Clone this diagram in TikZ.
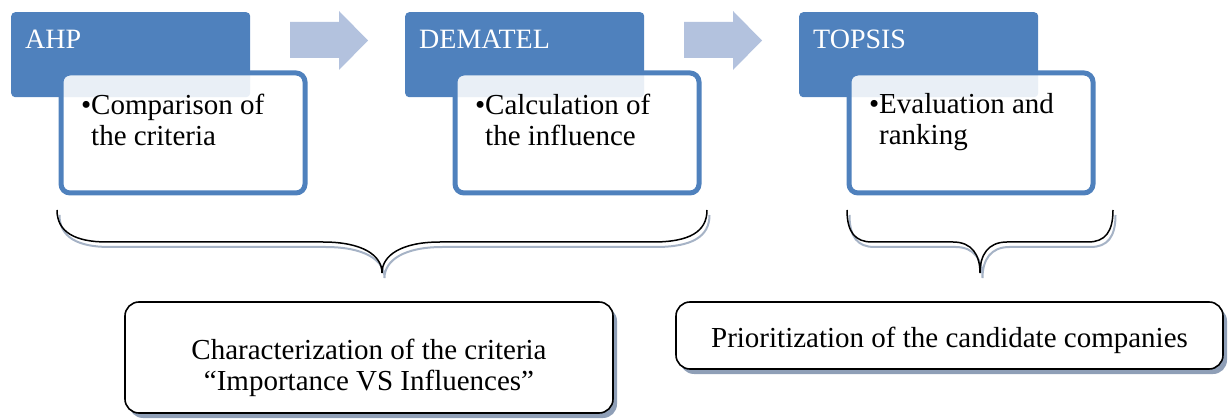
\documentclass[tikz,border=0pt]{standalone}
\usepackage{fontspec}
\setmainfont{Liberation Serif}
\usetikzlibrary{shadows}
\definecolor{accent}{HTML}{4F81BD}
\definecolor{arrowfill}{HTML}{B3C2DE}
\definecolor{shadowc}{HTML}{8F9FB7}
\definecolor{braceshadow}{HTML}{A6B3C6}
\begin{document}
\begin{tikzpicture}[x=1pt,y=-1pt,
  headbox/.style={fill=accent, rounded corners=4pt, minimum width=239pt, minimum height=85pt, inner sep=0pt, anchor=north west},
  itembox/.style={draw=accent, line width=5pt, fill=white, fill opacity=0.88, rounded corners=9pt, minimum width=244pt, minimum height=120pt, inner sep=0pt, anchor=north west},
  headtext/.style={text=white, font=\fontsize{28}{32}\selectfont, anchor=base west, inner sep=0pt},
  itemtext/.style={text=black, font=\fontsize{29}{31}\selectfont, align=left, anchor=north west, inner sep=0pt},
  resultbox/.style={draw=black, line width=1.6pt, fill=white, rounded corners=14pt, inner sep=0pt,
    drop shadow={shadow xshift=4pt, shadow yshift=-5pt, fill=shadowc, opacity=1}},
  resulttext/.style={text=black, font=\fontsize{29}{31}\selectfont, align=center, inner sep=0pt},
  blockarrow/.style={fill=arrowfill},
  bracepath/.style={draw=black, line width=1.5pt},
  braceshade/.style={draw=braceshadow, line width=2pt}
]
\useasboundingbox (0,0) rectangle (1228,419);

% ---- AHP
\node[headbox] (ahp) at (11,12) {};
\node[itembox] (ahpitem) at (58.5,70.5) {};
\node[headtext] (ahptxt) at (25,49) {AHP};
\node[itemtext] (ahpbody) at (91,93.5) {\llap{•}Comparison of\\the criteria};

% ---- DEMATEL
\node[headbox] (dem) at (405,12) {};
\node[itembox] (demitem) at (452.5,70.5) {};
\node[headtext] (demtxt) at (419,49) {DEMATEL};
\node[itemtext] (dembody) at (485,93.5) {\llap{•}Calculation of\\the influence};

% ---- TOPSIS
\node[headbox] (top) at (799,12) {};
\node[itembox] (topitem) at (846.5,70.5) {};
\node[headtext] (toptxt) at (813,49) {TOPSIS};
\node[itemtext] (topbody) at (879,93.5) {\llap{•}Evaluation and\\ranking};

% ---- block arrows
\fill[blockarrow] (290,22) -- (339,22) -- (339,11) -- (368,40.5) -- (339,70) -- (339,58) -- (290,58) -- cycle;
\fill[blockarrow] (684,22) -- (733,22) -- (733,11) -- (762,40.5) -- (733,70) -- (733,58) -- (684,58) -- cycle;

% ---- braces (shadow then line)
\begin{scope}[shift={(2.5,5)}]
\draw[braceshade] (57,210) .. controls (57,232) and (75,242) .. (107,242) -- (323,242)
  .. controls (362,242) and (382,255) .. (382,273) .. controls (382,255) and (402,242) .. (440,242)
  -- (653,242) .. controls (689,242) and (707,232) .. (707,210);
\draw[braceshade] (847,210) .. controls (847,232) and (855,242) .. (872,242) -- (953,242)
  .. controls (972,242) and (980,255) .. (980,273) .. controls (980,255) and (988,242) .. (1007,242)
  -- (1088,242) .. controls (1105,242) and (1113,232) .. (1113,210);
\end{scope}
\draw[bracepath] (57,210) .. controls (57,232) and (75,242) .. (107,242) -- (323,242)
  .. controls (362,242) and (382,255) .. (382,273) .. controls (382,255) and (402,242) .. (440,242)
  -- (653,242) .. controls (689,242) and (707,232) .. (707,210);
\draw[bracepath] (847,210) .. controls (847,232) and (855,242) .. (872,242) -- (953,242)
  .. controls (972,242) and (980,255) .. (980,273) .. controls (980,255) and (988,242) .. (1007,242)
  -- (1088,242) .. controls (1105,242) and (1113,232) .. (1113,210);

% ---- result boxes
\node[resultbox, minimum width=488pt, minimum height=111pt] (charbox) at (369,357.5) {};
\node[resulttext, anchor=north] (chartxt) at (369,338.5) {Characterization of the criteria\\“Importance VS Influences”};
\node[resultbox, minimum width=547pt, minimum height=67pt] (priobox) at (949.5,335.5) {};
\node[resulttext, anchor=base] (priotxt) at (949.5,348) {Prioritization of the candidate companies};
\end{tikzpicture}
\end{document}
